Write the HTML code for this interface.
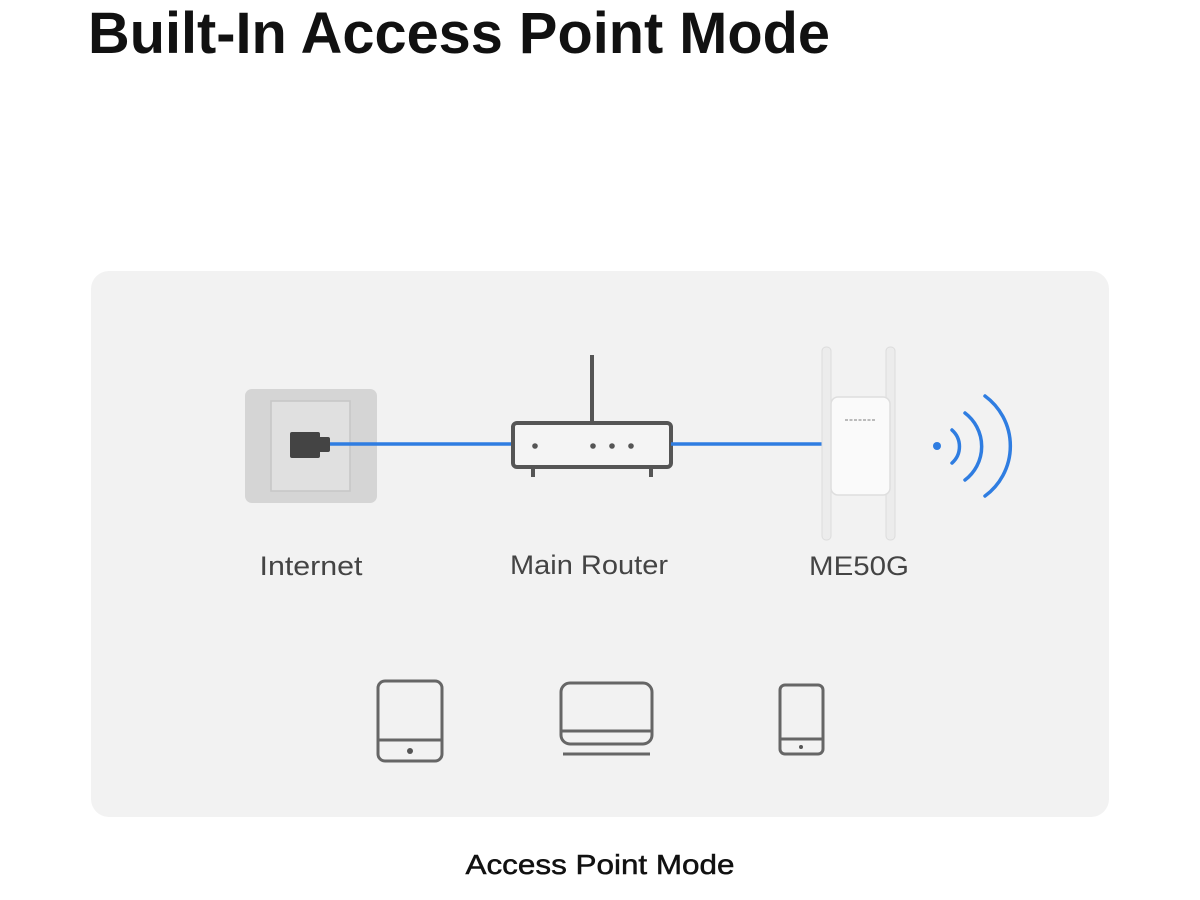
<!DOCTYPE html>
<html><head><meta charset="utf-8"><style>
html,body{margin:0;padding:0;background:#fff;width:1200px;height:900px;overflow:hidden}
svg{display:block}
</style></head><body>
<svg width="1200" height="900" viewBox="0 0 1200 900" xmlns="http://www.w3.org/2000/svg" font-family="Liberation Sans, sans-serif">
<text x="88" y="53" font-size="58" font-weight="bold" fill="#111" textLength="742" lengthAdjust="spacingAndGlyphs">Built-In Access Point Mode</text>
<rect x="91" y="271" width="1018" height="546" rx="18" fill="#f2f2f2"/>
<!-- internet wall -->
<rect x="245" y="389" width="132" height="114" rx="7" fill="#d5d5d5"/>
<rect x="271" y="401" width="79" height="90" fill="#e0e0e0" stroke="#c6c6c6" stroke-width="1.5"/>
<line x1="325" y1="444" x2="512" y2="444" stroke="#2f7de1" stroke-width="3.5"/>
<rect x="290" y="432" width="30" height="26" rx="2" fill="#444"/>
<rect x="318" y="437" width="12" height="15" rx="2" fill="#444"/>
<!-- router -->
<line x1="592" y1="355" x2="592" y2="422" stroke="#555" stroke-width="4"/>
<rect x="513" y="423" width="158" height="44" rx="4" fill="#f4f4f4" stroke="#555" stroke-width="4"/>
<line x1="533" y1="467" x2="533" y2="477" stroke="#555" stroke-width="4"/>
<line x1="651" y1="467" x2="651" y2="477" stroke="#555" stroke-width="4"/>
<circle cx="535" cy="446" r="2.8" fill="#555"/>
<circle cx="593" cy="446" r="2.8" fill="#555"/>
<circle cx="612" cy="446" r="2.8" fill="#555"/>
<circle cx="631" cy="446" r="2.8" fill="#555"/>
<line x1="671" y1="444" x2="835" y2="444" stroke="#2f7de1" stroke-width="3.5"/>
<!-- extender -->
<rect x="822" y="347" width="9" height="193" rx="4" fill="#ececec" stroke="#dcdcdc"/>
<rect x="886" y="347" width="9" height="193" rx="4" fill="#ececec" stroke="#dcdcdc"/>
<rect x="831" y="397" width="59" height="98" rx="7" fill="#fafafa" stroke="#dedede" stroke-width="1.5"/>
<line x1="845" y1="420" x2="875" y2="420" stroke="#bbb" stroke-width="2" stroke-dasharray="3,1.5"/>
<!-- wifi -->
<circle cx="937" cy="446" r="4" fill="#2f7de1"/>
<g fill="none" stroke="#2f7de1" stroke-width="3.5" stroke-linecap="round">
<path d="M952 430 A22 22 0 0 1 952 463"/>
<path d="M965 413 A42 42 0 0 1 965 480"/>
<path d="M985 396 A62 62 0 0 1 985 496"/>
</g>
<g font-size="27" fill="#444" text-anchor="middle">
<text x="311" y="575" textLength="103" lengthAdjust="spacingAndGlyphs">Internet</text>
<text x="589" y="574" textLength="158" lengthAdjust="spacingAndGlyphs">Main Router</text>
<text x="859" y="575" textLength="100" lengthAdjust="spacingAndGlyphs">ME50G</text>
</g>
<!-- devices -->
<g fill="none" stroke="#666" stroke-width="3">
<rect x="378" y="681" width="64" height="80" rx="7"/>
<line x1="378" y1="740" x2="442" y2="740"/>
<rect x="561" y="683" width="91" height="61" rx="9"/>
<line x1="561" y1="731" x2="652" y2="731"/>
<line x1="563" y1="754" x2="650" y2="754"/>
<rect x="780" y="685" width="43" height="69" rx="5"/>
<line x1="780" y1="739" x2="823" y2="739"/>
</g>
<circle cx="410" cy="751" r="3" fill="#555"/>
<circle cx="801" cy="747" r="2" fill="#555"/>
<text x="600" y="874" font-size="28" fill="#111" text-anchor="middle" stroke="#111" stroke-width="0.5" textLength="269" lengthAdjust="spacingAndGlyphs">Access Point Mode</text>
</svg>
</body></html>
